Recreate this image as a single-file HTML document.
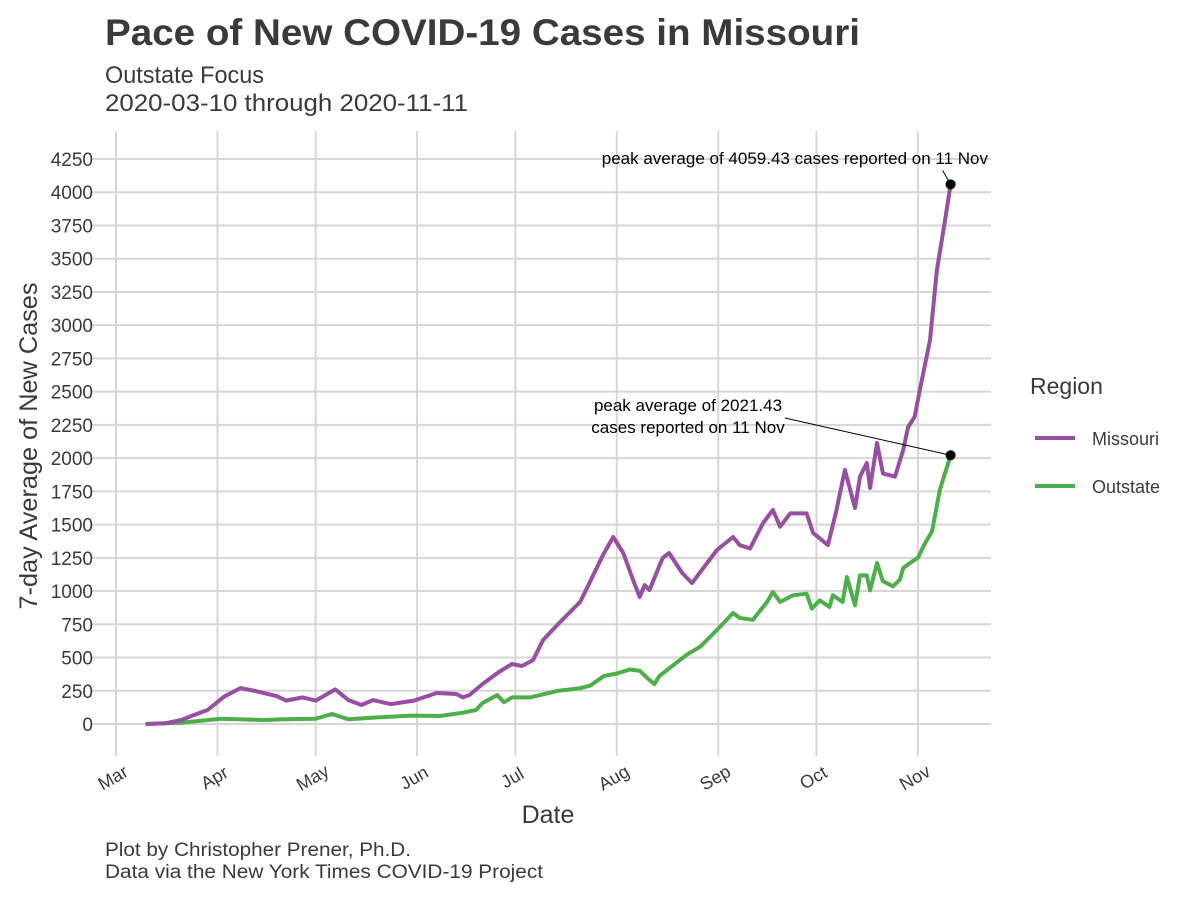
<!DOCTYPE html>
<html><head><meta charset="utf-8"><style>
body{margin:0;background:#fff;}
svg{display:block;font-family:"Liberation Sans",Arial,sans-serif;}
</style></head><body>
<svg id="chart" width="1200" height="900" viewBox="0 0 1200 900">
<rect width="1200" height="900" fill="#fff"/>
<text x="105" y="45" font-size="37" font-weight="bold" fill="#3a3a3a" textLength="755" lengthAdjust="spacingAndGlyphs">Pace of New COVID-19 Cases in Missouri</text>
<text x="105" y="83" font-size="24" fill="#3a3a3a" textLength="159" lengthAdjust="spacingAndGlyphs">Outstate Focus</text>
<text x="105" y="111" font-size="24" fill="#3a3a3a" textLength="363" lengthAdjust="spacingAndGlyphs">2020-03-10 through 2020-11-11</text>
<g id="grid"></g>
<g id="yticks"></g>
<g id="xticks"></g>
<g id="series"></g>
<text x="548" y="823" font-size="25" fill="#3a3a3a" text-anchor="middle">Date</text>
<text transform="translate(37,446) rotate(-90)" font-size="25" fill="#3a3a3a" text-anchor="middle" textLength="327" lengthAdjust="spacingAndGlyphs">7-day Average of New Cases</text>
<text x="105" y="856" font-size="19" fill="#3a3a3a" textLength="306" lengthAdjust="spacingAndGlyphs">Plot by Christopher Prener, Ph.D.</text>
<text x="105" y="878" font-size="19" fill="#3a3a3a" textLength="438" lengthAdjust="spacingAndGlyphs">Data via the New York Times COVID-19 Project</text>
<g>
<text x="1030" y="394" font-size="23" fill="#3a3a3a">Region</text>
<line x1="1035" y1="438" x2="1075" y2="438" stroke="#984ea3" stroke-width="4"/>
<text x="1092" y="445" font-size="18" fill="#3a3a3a">Missouri</text>
<line x1="1035" y1="486" x2="1075" y2="486" stroke="#4daf4a" stroke-width="4"/>
<text x="1092" y="493" font-size="18" fill="#3a3a3a">Outstate</text>
</g>
<g id="annot"></g>
</svg>
<script>
const yTicks=[0,250,500,750,1000,1250,1500,1750,2000,2250,2500,2750,3000,3250,3500,3750,4000,4250];
const monthLabels=["Mar","Apr","May","Jun","Jul","Aug","Sep","Oct","Nov"];
const monthDays=[0,31,61,92,122,153,184,214,245];
const moDays=[9,15,20,23,28,33,38,42,49,52,57,61,67,71,75,78.5,84,91,98,104,106,108,112,117,121,124,127.4,130.5,135.7,141.8,144.8,148.8,151.9,155,158,160,161.5,163,167,169,173,176,183.6,188.5,190.6,193.7,197.7,200.7,202.9,206,211,213,217.5,220,222.7,225.8,227.3,229.4,230.4,232.5,234.3,238,240.5,242,244,245.6,248.7,250.8,253.3,255];
const moVals=[0,5,30,60,105,205,270,251,210,176,200,176,260,180,143,180,150,176,233,226,200,218,301,391,451,436,481,632,767,918,1068,1271,1407,1286,1083,955,1045,1008,1249,1286,1136,1060,1309,1407,1345,1320,1512,1610,1484,1584,1584,1437,1346,1596,1911,1625,1860,1963,1775,2114,1885,1860,2060,2234,2310,2512,2888,3415,3791,4059.43];
const osDays=[9,20,32,45,52,61,66,71,80,90,99,106,110,112,116.5,118.5,121,126.5,135,142,145,149,153,157,160,163,164.5,166,174.4,178.4,183.6,188.5,190.6,194.6,198.9,200.7,202.9,206.8,211,212.6,215,218,219,222,223.3,225.8,227.3,229.4,230.4,232.5,234.3,237.4,239.5,240.5,242.6,245,247.2,249.3,251.7,255];
const osVals=[0,10,40,30,35,40,75,35,50,63,60,85,105,158,218,163,200,200,250,270,290,360,380,410,400,330,300,360,521,580,707,835,797,784,918,993,918,968,980,868,930,880,968,918,1106,893,1118,1118,1005,1211,1074,1036,1086,1173,1211,1250,1361,1449,1760,2021.43];
const X0=116,PXD=3.273,Y0=724,PXV=(724-159)/4250;
const xS=d=>X0+d*PXD, yS=v=>Y0-v*PXV;
const NS="http://www.w3.org/2000/svg";
function mk(tag,attrs,parent){const e=document.createElementNS(NS,tag);for(const k in attrs)e.setAttribute(k,attrs[k]);parent.appendChild(e);return e;}
const grid=document.getElementById('grid'),yt=document.getElementById('yticks'),xt=document.getElementById('xticks'),ser=document.getElementById('series'),an=document.getElementById('annot');
yTicks.forEach(v=>{
 const l=mk('line',{x1:91,x2:991,y1:yS(v),y2:yS(v),stroke:'#d6d6d6','stroke-width':2},grid);
 
 
 const t=mk('text',{x:93,y:yS(v)+7,'font-size':19,fill:'#3a3a3a','text-anchor':'end'},yt);
 t.textContent=v;
 
 
});
monthDays.forEach((d,i)=>{
 const l=mk('line',{x1:xS(d),x2:xS(d),y1:131,y2:756,stroke:'#d6d6d6','stroke-width':2},grid);
 
 
 const x=xS(d),y=783;
 const t=mk('text',{x:x,y:y,'font-size':18,fill:'#3a3a3a','text-anchor':'middle',transform:`rotate(-30 ${x} ${y})`},xt);
 t.textContent=monthLabels[i];
 
 
});
function path(days,vals,color,name){
 const d=days.map((dd,i)=>(i?'L':'M')+xS(dd).toFixed(1)+','+yS(vals[i]).toFixed(1)).join('');
 const p=mk('path',{d:d,fill:'none',stroke:color,'stroke-width':4,'stroke-linejoin':'round'},ser);
 
 
}
path(osDays,osVals,'#4daf4a','outstate-line');
path(moDays,moVals,'#984ea3','missouri-line');
const mLast=moDays.length-1,oLast=osDays.length-1;
const mx=xS(moDays[mLast]),my=yS(moVals[mLast]),ox=xS(osDays[oLast]),oy=yS(osVals[oLast]);
const l1=mk('line',{x1:mx-8,y1:my-14,x2:mx,y2:my,stroke:'#000','stroke-width':1},an);


const l2=mk('line',{x1:785,y1:418,x2:ox,y2:oy,stroke:'#000','stroke-width':1},an);


const c1=mk('circle',{cx:mx,cy:my,r:5,fill:'#000'},an);


const c2=mk('circle',{cx:ox,cy:oy,r:5,fill:'#000'},an);


const t1=mk('text',{x:988,y:164,'font-size':17,fill:'#000','text-anchor':'end'},an);
t1.textContent='peak average of '+moVals[mLast]+' cases reported on 11 Nov';


const t2=mk('text',{x:688,y:411,'font-size':17,fill:'#000','text-anchor':'middle'},an);
t2.textContent='peak average of '+osVals[oLast];


const t3=mk('text',{x:688,y:433,'font-size':17,fill:'#000','text-anchor':'middle'},an);
t3.textContent='cases reported on 11 Nov';


</script>
</body></html>
